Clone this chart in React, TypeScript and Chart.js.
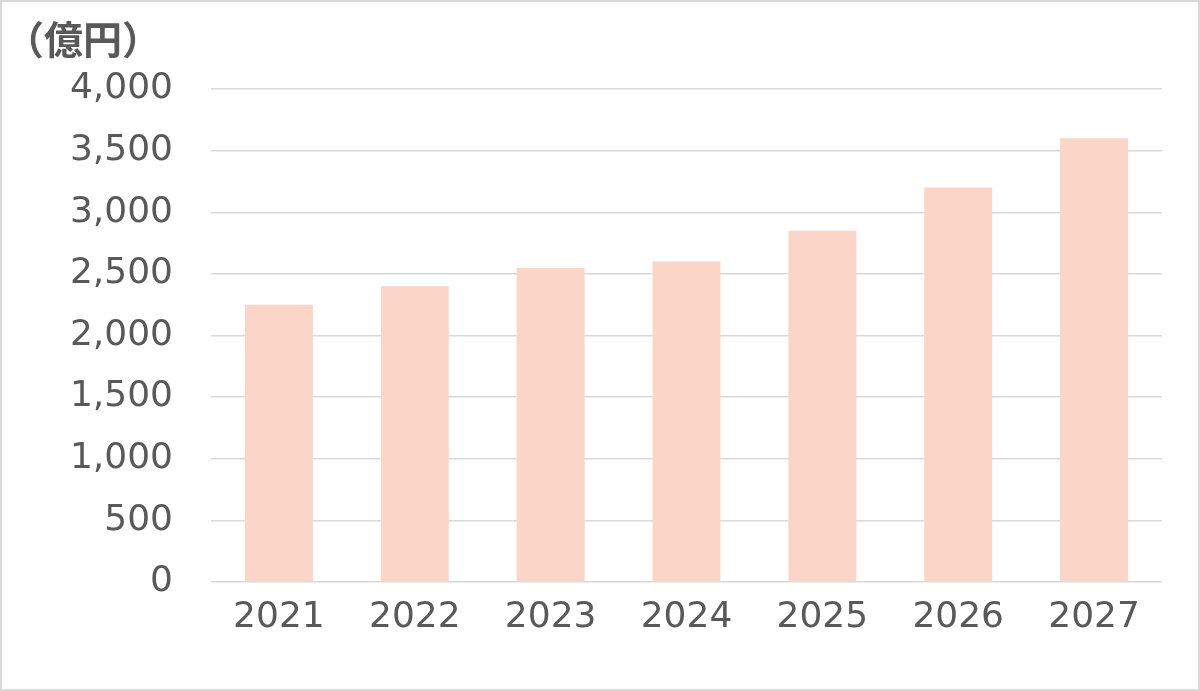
import React, { useEffect, useRef } from "react";
import { Chart, registerables } from "chart.js";

Chart.register(...registerables);

const categories = ["2021", "2022", "2023", "2024", "2025", "2026", "2027"];
const values = [2250, 2400, 2550, 2600, 2850, 3200, 3600];
const unitLabel = "（億円）";
const yMax = 4000;
const yStep = 500;

const titlePlugin = {
  id: "unitTitle",
  afterDraw(chart: any) {
    const ctx = chart.ctx;
    ctx.save();
    ctx.font = 'bold 39px "Noto Sans CJK JP", sans-serif';
    ctx.fillStyle = "#595959";
    ctx.textAlign = "left";
    ctx.textBaseline = "middle";
    ctx.fillText(unitLabel, 3, 37);
    ctx.restore();
  },
};

export default function App() {
  const ref = useRef<HTMLCanvasElement | null>(null);
  useEffect(() => {
    document.body.style.margin = "0";
    const chart = new Chart(ref.current as HTMLCanvasElement, {
      type: "bar",
      data: {
        labels: categories,
        datasets: [
          {
            data: values,
            backgroundColor: "#fcd5c9",
            barPercentage: 0.5,
            categoryPercentage: 1,
          },
        ],
      },
      options: {
        animation: false,
        responsive: false,
        maintainAspectRatio: false,
        layout: { padding: { top: 87, right: 36, bottom: 0, left: 0 } },
        plugins: { legend: { display: false }, tooltip: { enabled: false } },
        scales: {
          x: {
            grid: { display: false, drawTicks: false },
            border: { display: false },
            ticks: {
              color: "#595959",
              font: { family: '"DejaVu Sans", sans-serif', size: 36 },
              padding: 14,
              maxRotation: 0,
            },
            afterFit(scale: any) {
              scale.height = 107;
            },
          },
          y: {
            min: 0,
            max: yMax,
            grid: { color: "#d9d9d9", lineWidth: 1.5, drawTicks: false },
            border: { display: false },
            ticks: {
              stepSize: yStep,
              color: "#595959",
              font: { family: '"DejaVu Sans", sans-serif', size: 36 },
              padding: 38,
              callback: (v: any) => Number(v).toLocaleString("en-US"),
            },
            afterFit(scale: any) {
              scale.width = 209;
            },
          },
        },
      },
      plugins: [titlePlugin],
    });
    return () => chart.destroy();
  }, []);
  return (
    <div
      style={{
        width: 1200,
        height: 691,
        boxSizing: "border-box",
        border: "2px solid #d9d9d9",
        background: "#fff",
        overflow: "hidden",
      }}
    >
      <canvas ref={ref} width={1196} height={687} style={{ display: "block" }} />
    </div>
  );
}
